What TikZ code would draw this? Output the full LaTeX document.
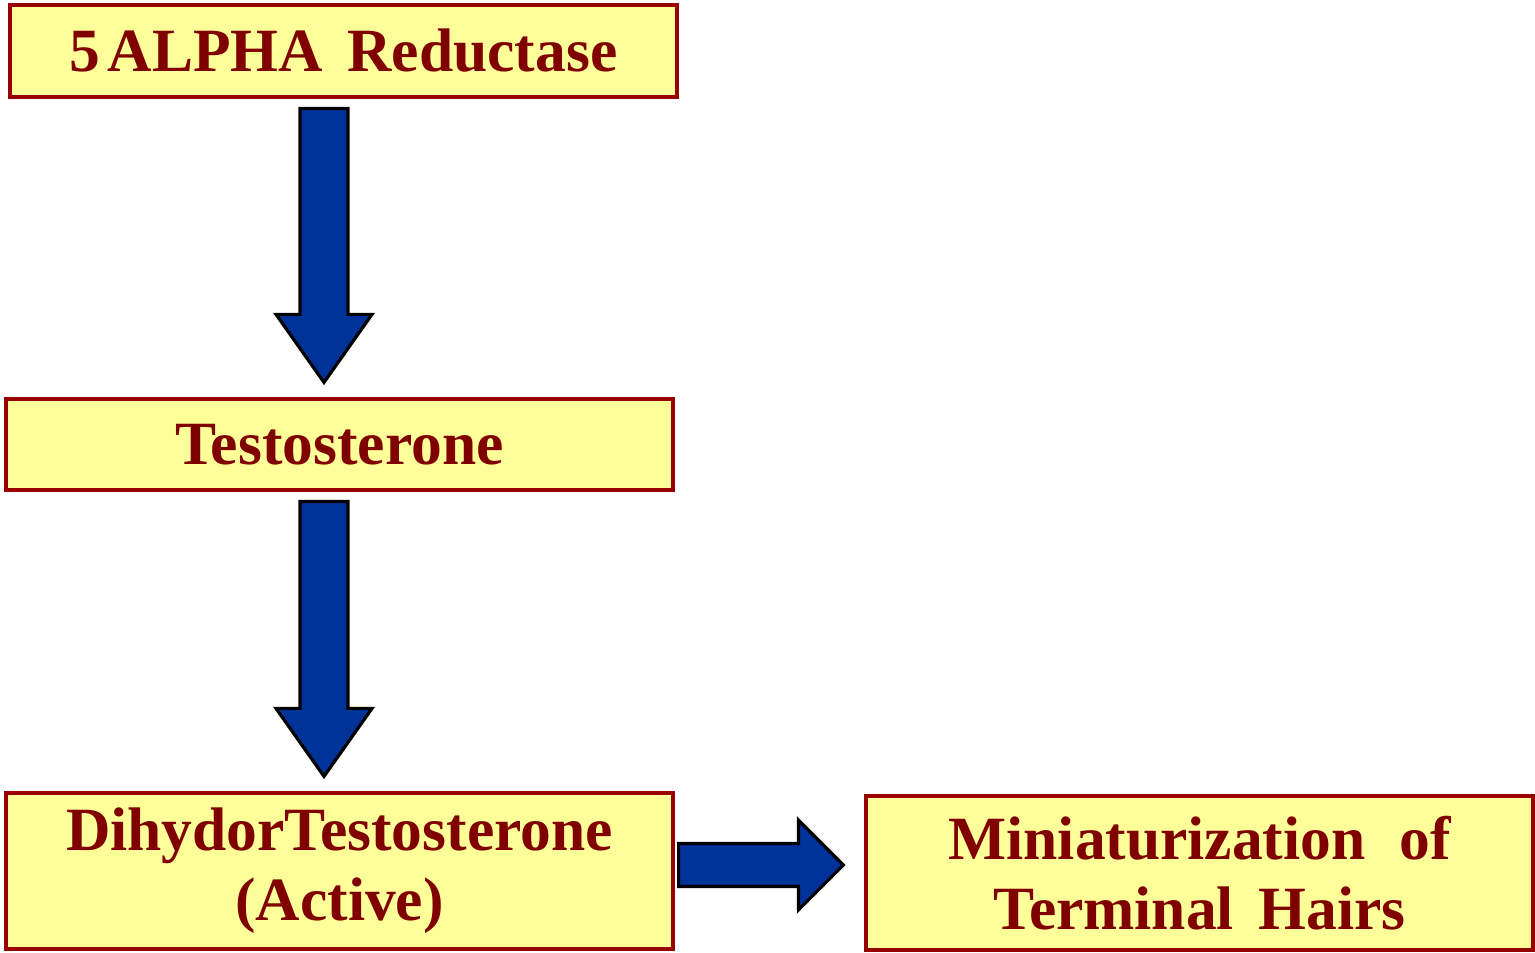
\documentclass[tikz,border=0pt]{standalone}
\usepackage{fontspec}
\setmainfont{Liberation Serif}
\usepackage{tikz}
\usetikzlibrary{positioning,calc}
\definecolor{boxfill}{HTML}{FFFF99}
\definecolor{boxline}{HTML}{990000}
\definecolor{boxtext}{HTML}{800000}
\definecolor{arrowblue}{HTML}{003399}
\tikzstyle{stage} = [rectangle, minimum width=6.67cm, text width=6.4cm, align=center,
  draw=boxline, line width=0.9pt, fill=boxfill, text=boxtext,
  font=\fontsize{17.5}{20}\selectfont\bfseries, inner sep=0pt]
\tikzstyle{blockarrow} = [draw=black, line width=0.9pt, fill=arrowblue, line join=miter]
% vertical block arrow from #1 down to #2
\newcommand{\vblock}[2]{%
  \draw[blockarrow] let \p1=(#1.south), \p2=(#2.north), \p3=(axis) in
    (\x3-0.24cm,\y1-0.10cm) -- (\x3+0.24cm,\y1-0.10cm) -- (\x3+0.24cm,\y2+0.83cm)
    -- (\x3+0.48cm,\y2+0.83cm) -- (\x3,\y2+0.15cm) -- (\x3-0.48cm,\y2+0.83cm)
    -- (\x3-0.24cm,\y2+0.83cm) -- cycle;}
% horizontal block arrow from #1 right to #2
\newcommand{\hblock}[2]{%
  \draw[blockarrow] let \p1=(#1.east), \p2=(#2.west) in
    (\x1+0.04cm,\y1+0.275cm) -- (\x2-0.66cm,\y1+0.275cm) -- (\x2-0.66cm,\y1+0.51cm)
    -- (\x2-0.21cm,\y1+0.06cm) -- (\x2-0.66cm,\y1-0.39cm) -- (\x2-0.66cm,\y1-0.155cm)
    -- (\x1+0.04cm,\y1-0.155cm) -- cycle;}

\begin{document}
\begin{tikzpicture}
\useasboundingbox (0,0) rectangle (15.35,9.53);
\coordinate (axis) at (3.24,0);
\node (reductase) at (3.435,9.02) [stage, minimum height=0.92cm] {5\hspace{0.12em}ALPHA\hspace{0.4em}Reductase};
\node (testo) at (3.395,5.085) [stage, minimum height=0.91cm] {Testosterone};
\node (dht) at (3.395,0.82) [stage, minimum height=1.56cm] {DihydorTestosterone\\(Active)};
\node (hairs) at (11.995,0.80) [stage, minimum height=1.54cm] {Miniaturization\hspace{0.55em}of\\Terminal\hspace{0.4em}Hairs};
\vblock{reductase}{testo}
\vblock{testo}{dht}
\hblock{dht}{hairs}
\end{tikzpicture}
\end{document}
